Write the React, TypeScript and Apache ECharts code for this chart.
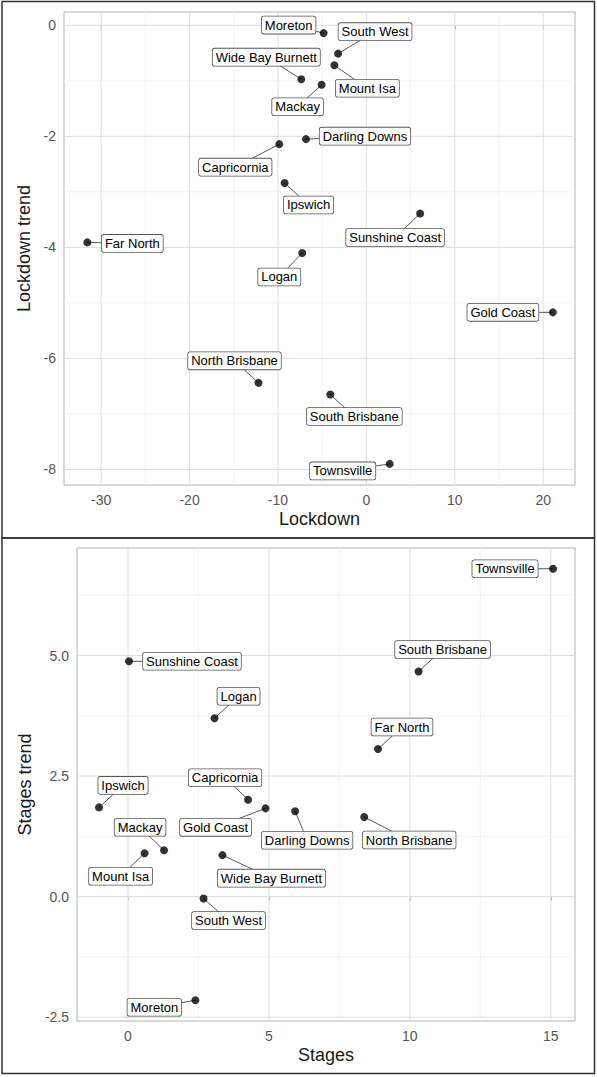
import React, { useEffect, useRef } from "react";
import * as echarts from "echarts";

// ---------- data ----------
const regions = [
  "Moreton", "South West", "Mount Isa", "Wide Bay Burnett", "Mackay",
  "Darling Downs", "Capricornia", "Ipswich", "Sunshine Coast", "Far North",
  "Logan", "Gold Coast", "North Brisbane", "South Brisbane", "Townsville",
];
const lockdown = [-4.83, -3.2, -3.62, -7.36, -5.06, -6.83, -9.85, -9.25, 6.08, -31.56, -7.25, 21.1, -12.2, -4.08, 2.64];
const lockdownTrend = [-0.14, -0.51, -0.72, -0.97, -1.07, -2.05, -2.14, -2.84, -3.39, -3.91, -4.1, -5.17, -6.44, -6.65, -7.9];
const stages = [2.39, 2.68, 0.59, 3.35, 1.28, 5.93, 4.26, -1.03, 0.035, 8.87, 3.07, 4.88, 8.38, 10.31, 15.08];
const stagesTrend = [-2.15, -0.04, 0.9, 0.86, 0.96, 1.77, 2.01, 1.85, 4.88, 3.06, 3.7, 1.83, 1.65, 4.67, 6.8];

// tick labels / grid values
const topXTicks = [-30, -20, -10, 0, 10, 20];
const topXMinor = [-25, -15, -5, 5, 15];
const topYTicks = [-8, -6, -4, -2, 0];
const topYMinor = [-7, -5, -3, -1];
const botXTicks = [0, 5, 10, 15];
const botXMinor = [2.5, 7.5, 12.5];
const botYTicks = [-2.5, 0, 2.5, 5];
const botYMinor = [-1.25, 1.25, 3.75, 6.25];

// ---------- layout (label offsets in px, relative to the point) ----------
const topLabelOffsets = [
  [-35, -8], [37, -22], [33, 23], [-35, -22], [-24, 22], [59, -3], [-44, 23], [24, 22],
  [-25, 24], [45, 1], [-23, 24], [-50, 0], [-24, -22], [24, 22], [-47, 7],
];
const botLabelOffsets = [
  [-41, 7], [25, 22], [-24, 23], [49, 23], [-24, -23], [12, 29], [-23, -22], [24, -22],
  [63, 0], [24, -22], [24, -22], [-50, 19], [45, 23], [24, -22], [-48, 0],
];

const FONT = "'Liberation Sans', Arial, sans-serif";

function gridSeries(gi: number, xMaj: number[], xMin: number[], yMaj: number[], yMin: number[]) {
  const data: number[][] = [];
  const refY = yMaj[0];
  const refX = xMaj[0];
  xMaj.forEach((v) => data.push([v, refY, 0, 1]));
  xMin.forEach((v) => data.push([v, refY, 0, 0]));
  yMaj.forEach((v) => data.push([refX, v, 1, 1]));
  yMin.forEach((v) => data.push([refX, v, 1, 0]));
  return {
    type: "custom",
    xAxisIndex: gi,
    yAxisIndex: gi,
    z: 1,
    silent: true,
    data,
    renderItem: (params: any, api: any) => {
      const cs = params.coordSys;
      const vertical = api.value(2) === 0;
      const major = api.value(3) === 1;
      const p = api.coord([api.value(0), api.value(1)]);
      const shape = vertical
        ? { x1: p[0], y1: cs.y, x2: p[0], y2: cs.y + cs.height }
        : { x1: cs.x, y1: p[1], x2: cs.x + cs.width, y2: p[1] };
      return {
        type: "line",
        shape,
        style: { stroke: major ? "#dedede" : "#f0f0f0", lineWidth: major ? 1 : 0.8 },
      };
    },
  };
}

function panelSeries(gi: number, xs: number[], ys: number[], offsets: number[][]) {
  const pts = xs.map((x, i) => [x, ys[i]]);
  return [
    {
      type: "custom",
      xAxisIndex: gi,
      yAxisIndex: gi,
      z: 2,
      silent: true,
      data: pts,
      renderItem: (params: any, api: any) => {
        const p = api.coord([api.value(0), api.value(1)]);
        const o = offsets[params.dataIndex];
        return {
          type: "line",
          shape: { x1: p[0], y1: p[1], x2: p[0] + o[0], y2: p[1] + o[1] },
          style: { stroke: "#444", lineWidth: 0.9 },
        };
      },
    },
    {
      type: "scatter",
      xAxisIndex: gi,
      yAxisIndex: gi,
      z: 3,
      symbolSize: 8,
      itemStyle: { color: "#000" },
      data: pts,
    },
    {
      type: "custom",
      xAxisIndex: gi,
      yAxisIndex: gi,
      z: 4,
      silent: true,
      data: pts,
      renderItem: (params: any, api: any) => {
        const p = api.coord([api.value(0), api.value(1)]);
        const o = offsets[params.dataIndex];
        return {
          type: "text",
          x: p[0] + o[0],
          y: p[1] + o[1],
          style: {
            text: regions[params.dataIndex],
            fill: "#000",
            font: `13px ${FONT}`,
            align: "center",
            verticalAlign: "middle",
            lineHeight: 13,
            backgroundColor: "#fff",
            borderColor: "#555",
            borderWidth: 0.8,
            borderRadius: 2,
            padding: [2, 3, 2, 3],
          },
        };
      },
    },
  ];
}

function xAxis(gi: number, min: number, max: number, ticks: number[], name: string, fmt?: (v: number) => string) {
  return {
    type: "value",
    gridIndex: gi,
    min,
    max,
    name,
    nameLocation: "middle",
    nameGap: 25,
    nameTextStyle: { fontSize: 18, color: "#1a1a1a", fontFamily: FONT },
    axisLine: { show: false },
    axisTick: { show: true, length: 4, customValues: ticks, lineStyle: { color: "#b3b3b3" } },
    axisLabel: {
      customValues: ticks,
      margin: 8,
      fontSize: 14,
      color: "#555",
      fontFamily: FONT,
      formatter: fmt || ((v: number) => String(v)),
    },
    splitLine: { show: false },
  };
}

function yAxis(gi: number, min: number, max: number, ticks: number[], name: string, gap: number, fmt?: (v: number) => string) {
  return {
    type: "value",
    gridIndex: gi,
    min,
    max,
    name,
    nameLocation: "middle",
    nameGap: gap,
    nameTextStyle: { fontSize: 18, color: "#1a1a1a", fontFamily: FONT },
    axisLine: { show: false },
    axisTick: { show: true, length: 4, customValues: ticks, lineStyle: { color: "#b3b3b3" } },
    axisLabel: {
      customValues: ticks,
      margin: 8,
      fontSize: 14,
      color: "#555",
      fontFamily: FONT,
      formatter: fmt || ((v: number) => String(v)),
    },
    splitLine: { show: false },
  };
}

export default function App() {
  const ref = useRef<HTMLDivElement>(null);
  useEffect(() => {
    document.body.style.margin = "0";
    const chart = echarts.init(ref.current!, null, { renderer: "svg" });
    const fmt1 = (v: number) => v.toFixed(1);
    chart.setOption({
      animation: false,
      backgroundColor: "#fff",
      grid: [
        { left: 64, top: 12, width: 511, height: 473, show: true, borderColor: "#b3b3b3", borderWidth: 1, backgroundColor: "transparent" },
        { left: 77, top: 548, width: 498, height: 473, show: true, borderColor: "#b3b3b3", borderWidth: 1, backgroundColor: "transparent" },
      ],
      xAxis: [
        xAxis(0, -34.2, 23.6, topXTicks, "Lockdown"),
        xAxis(1, -1.81, 15.86, botXTicks, "Stages"),
      ],
      yAxis: [
        yAxis(0, -8.28, 0.24, topYTicks, "Lockdown trend", 27),
        yAxis(1, -2.58, 7.23, botYTicks, "Stages trend", 39, fmt1),
      ],
      graphic: [
        { type: "rect", shape: { x: 2, y: 1.5, width: 592.5, height: 536.5 }, style: { fill: "none", stroke: "#333", lineWidth: 1.5 }, silent: true },
        { type: "rect", shape: { x: 2, y: 538, width: 592.5, height: 535.5 }, style: { fill: "none", stroke: "#333", lineWidth: 1.5 }, silent: true },
      ],
      series: [
        gridSeries(0, topXTicks, topXMinor, topYTicks, topYMinor),
        gridSeries(1, botXTicks, botXMinor, botYTicks, botYMinor),
        ...panelSeries(0, lockdown, lockdownTrend, topLabelOffsets),
        ...panelSeries(1, stages, stagesTrend, botLabelOffsets),
      ],
    });
    return () => chart.dispose();
  }, []);
  return (
    <div
      ref={ref}
      style={{ position: "absolute", left: 0, top: 0, width: 597, height: 1077 }}
    />
  );
}
